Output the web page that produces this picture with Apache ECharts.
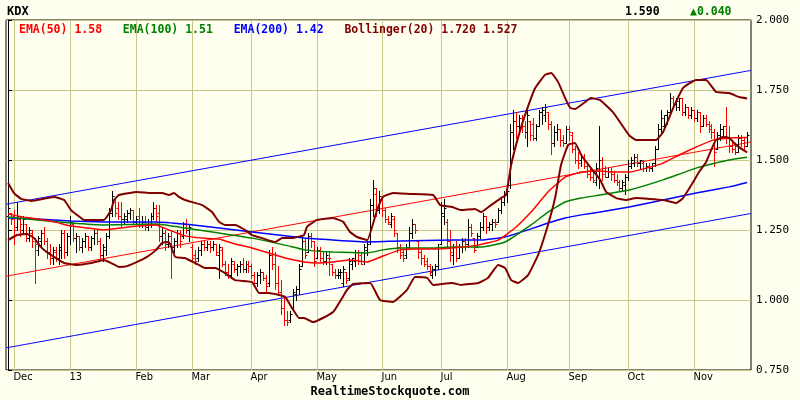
<!DOCTYPE html>
<html><head><meta charset="utf-8">
<script src="https://cdn.jsdelivr.net/npm/echarts@6/dist/echarts.min.js"></script>
<style>html,body{margin:0;padding:0;background:#fffff0}#c{width:800px;height:400px}</style>
</head><body><div id="c"></div>
<script>
const symbol = 'KDX';
const footerText = 'RealtimeStockquote.com';
// first trading day of each month (bar index) and its label
const monthIdx = [2, 21, 43, 62, 82, 104, 126, 146, 168, 189, 209, 231];
const monthLabels = ['Dec', '13', 'Feb', 'Mar', 'Apr', 'May', 'Jun', 'Jul', 'Aug', 'Sep', 'Oct', 'Nov'];
const yMin = 0.75, yMax = 2.0, yStep = 0.25;

const opens = [
1.30,1.31,1.30,1.26,1.29,1.25,1.27,1.22,1.24,1.22,
1.18,1.21,1.24,1.21,1.17,1.15,1.17,1.15,1.18,1.24,
1.17,1.23,1.27,1.22,1.23,1.19,1.21,1.23,1.19,1.22,
1.24,1.21,1.16,1.18,1.23,1.31,1.35,1.33,1.30,1.29,
1.29,1.31,1.32,1.28,1.30,1.27,1.28,1.26,1.27,1.30,
1.33,1.31,1.23,1.24,1.20,1.23,1.19,1.21,1.24,1.23,
1.27,1.25,1.19,1.16,1.15,1.18,1.20,1.19,1.20,1.19,
1.20,1.16,1.18,1.13,1.10,1.09,1.13,1.11,1.12,1.13,
1.11,1.13,1.12,1.09,1.06,1.09,1.10,1.08,1.06,1.16,
1.13,1.06,1.03,0.97,0.93,0.93,0.97,1.02,1.04,1.12,
1.21,1.17,1.23,1.21,1.15,1.18,1.15,1.14,1.15,1.13,
1.10,1.09,1.09,1.06,1.10,1.08,1.13,1.14,1.17,1.16,
1.14,1.18,1.21,1.34,1.38,1.32,1.36,1.32,1.29,1.27,
1.29,1.24,1.19,1.17,1.16,1.19,1.24,1.27,1.21,1.17,
1.15,1.14,1.12,1.09,1.11,1.12,1.20,1.30,1.28,1.21,
1.16,1.19,1.15,1.19,1.21,1.20,1.26,1.22,1.19,1.23,
1.26,1.30,1.26,1.27,1.28,1.28,1.32,1.35,1.38,1.41,
1.60,1.64,1.62,1.65,1.62,1.60,1.64,1.63,1.58,1.62,
1.67,1.66,1.67,1.63,1.56,1.60,1.61,1.57,1.56,1.61,
1.59,1.54,1.50,1.50,1.51,1.48,1.45,1.44,1.42,1.46,
1.50,1.47,1.44,1.46,1.45,1.43,1.42,1.40,1.41,1.44,
1.48,1.49,1.51,1.49,1.49,1.47,1.48,1.47,1.49,1.54,
1.61,1.62,1.66,1.67,1.72,1.70,1.69,1.72,1.67,1.69,
1.66,1.68,1.65,1.67,1.62,1.65,1.63,1.62,1.60,1.54,
1.59,1.61,1.62,1.58,1.55,1.54,1.53,1.58,1.57,1.55];
const highs = [
1.34,1.31,1.32,1.35,1.30,1.30,1.27,1.26,1.25,1.22,
1.23,1.25,1.26,1.22,1.20,1.19,1.19,1.20,1.25,1.25,
1.24,1.30,1.28,1.24,1.23,1.22,1.24,1.23,1.23,1.25,
1.25,1.22,1.20,1.24,1.33,1.39,1.36,1.35,1.35,1.31,
1.32,1.33,1.32,1.30,1.33,1.30,1.30,1.29,1.31,1.35,
1.34,1.34,1.26,1.25,1.24,1.25,1.22,1.25,1.25,1.28,
1.29,1.27,1.20,1.18,1.19,1.21,1.21,1.21,1.21,1.21,
1.20,1.20,1.19,1.14,1.13,1.15,1.14,1.13,1.14,1.15,
1.14,1.14,1.13,1.10,1.10,1.11,1.10,1.09,1.18,1.19,
1.17,1.12,1.07,1.01,0.96,0.96,1.04,1.05,1.13,1.23,
1.22,1.24,1.24,1.21,1.19,1.19,1.17,1.17,1.17,1.13,
1.11,1.11,1.11,1.12,1.10,1.15,1.15,1.18,1.18,1.17,
1.20,1.21,1.36,1.43,1.40,1.39,1.37,1.33,1.30,1.31,
1.30,1.24,1.20,1.18,1.20,1.26,1.29,1.27,1.21,1.18,
1.16,1.15,1.13,1.12,1.13,1.20,1.35,1.36,1.29,1.25,
1.20,1.21,1.20,1.22,1.22,1.29,1.27,1.22,1.24,1.28,
1.31,1.30,1.28,1.29,1.29,1.33,1.36,1.39,1.40,1.63,
1.68,1.67,1.66,1.66,1.64,1.69,1.64,1.65,1.63,1.68,
1.69,1.70,1.67,1.64,1.62,1.63,1.61,1.59,1.62,1.62,
1.60,1.55,1.53,1.52,1.52,1.49,1.47,1.46,1.49,1.62,
1.51,1.48,1.47,1.47,1.46,1.45,1.43,1.43,1.45,1.50,
1.51,1.52,1.52,1.50,1.50,1.49,1.49,1.49,1.55,1.63,
1.68,1.66,1.68,1.74,1.73,1.72,1.72,1.72,1.70,1.69,
1.69,1.68,1.68,1.67,1.66,1.66,1.64,1.63,1.61,1.60,
1.63,1.62,1.69,1.62,1.57,1.56,1.59,1.59,1.58,1.60];
const lows = [
1.29,1.27,1.20,1.25,1.23,1.24,1.21,1.21,1.19,1.06,
1.16,1.19,1.20,1.15,1.13,1.13,1.14,1.13,1.15,1.15,
1.16,1.20,1.21,1.17,1.18,1.17,1.19,1.18,1.18,1.20,
1.20,1.15,1.14,1.16,1.22,1.30,1.30,1.29,1.26,1.27,
1.28,1.29,1.27,1.27,1.26,1.26,1.25,1.25,1.26,1.29,
1.28,1.21,1.20,1.18,1.19,1.08,1.17,1.19,1.19,1.22,
1.24,1.21,1.14,1.13,1.14,1.16,1.18,1.18,1.17,1.18,
1.16,1.08,1.12,1.09,1.08,1.08,1.10,1.09,1.10,1.10,
1.10,1.10,1.08,1.05,1.05,1.06,1.07,1.03,1.05,1.11,
1.04,1.02,0.95,0.91,0.91,0.92,0.97,1.00,1.02,1.12,
1.15,1.17,1.19,1.12,1.15,1.14,1.13,1.13,1.09,1.09,
1.08,1.08,1.08,1.05,1.06,1.07,1.11,1.12,1.13,1.13,
1.13,1.16,1.20,1.30,1.30,1.31,1.30,1.28,1.27,1.26,
1.23,1.17,1.15,1.14,1.15,1.19,1.22,1.24,1.15,1.13,
1.12,1.11,1.09,1.08,1.09,1.11,1.20,1.27,1.19,1.14,
1.13,1.14,1.15,1.17,1.18,1.19,1.23,1.17,1.19,1.22,
1.25,1.24,1.25,1.25,1.26,1.28,1.31,1.34,1.35,1.40,
1.54,1.58,1.60,1.60,1.58,1.55,1.57,1.57,1.57,1.62,
1.63,1.64,1.61,1.52,1.55,1.57,1.55,1.55,1.56,1.57,
1.53,1.49,1.47,1.48,1.47,1.44,1.43,1.42,1.41,1.40,
1.43,1.44,1.44,1.43,1.42,1.41,1.39,1.39,1.38,1.43,
1.47,1.48,1.48,1.47,1.46,1.46,1.46,1.46,1.48,1.54,
1.60,1.61,1.63,1.67,1.69,1.68,1.68,1.66,1.66,1.65,
1.65,1.64,1.64,1.60,1.62,1.62,1.60,1.58,1.48,1.54,
1.57,1.58,1.56,1.53,1.53,1.52,1.53,1.55,1.54,1.55];
const closes = [
1.33,1.29,1.25,1.30,1.27,1.29,1.22,1.25,1.21,1.20,
1.22,1.24,1.21,1.17,1.16,1.18,1.15,1.19,1.24,1.17,
1.23,1.28,1.22,1.23,1.19,1.21,1.23,1.19,1.22,1.24,
1.21,1.16,1.19,1.23,1.31,1.37,1.31,1.30,1.29,1.30,
1.31,1.32,1.28,1.29,1.27,1.28,1.26,1.27,1.30,1.33,
1.30,1.23,1.24,1.20,1.23,1.19,1.21,1.24,1.21,1.27,
1.25,1.26,1.15,1.14,1.18,1.20,1.19,1.20,1.19,1.20,
1.17,1.19,1.13,1.10,1.09,1.14,1.11,1.12,1.13,1.11,
1.13,1.12,1.09,1.06,1.09,1.10,1.08,1.05,1.16,1.13,
1.06,1.03,0.97,0.93,0.92,0.95,1.03,1.04,1.11,1.21,
1.16,1.23,1.21,1.14,1.18,1.15,1.14,1.16,1.15,1.10,
1.09,1.10,1.10,1.11,1.07,1.14,1.15,1.17,1.14,1.13,
1.19,1.20,1.34,1.40,1.32,1.37,1.32,1.29,1.28,1.30,
1.25,1.19,1.16,1.15,1.19,1.24,1.27,1.25,1.17,1.15,
1.13,1.12,1.10,1.11,1.12,1.19,1.31,1.33,1.21,1.17,
1.19,1.15,1.19,1.21,1.20,1.26,1.24,1.18,1.23,1.26,
1.30,1.26,1.27,1.28,1.27,1.32,1.35,1.38,1.39,1.60,
1.64,1.62,1.65,1.62,1.60,1.66,1.59,1.58,1.62,1.67,
1.68,1.69,1.63,1.56,1.60,1.61,1.57,1.56,1.61,1.60,
1.54,1.50,1.49,1.51,1.48,1.45,1.44,1.43,1.47,1.50,
1.45,1.44,1.46,1.45,1.43,1.42,1.40,1.42,1.44,1.48,
1.50,1.51,1.49,1.50,1.47,1.48,1.47,1.49,1.54,1.61,
1.65,1.66,1.67,1.72,1.70,1.71,1.72,1.67,1.69,1.66,
1.68,1.65,1.67,1.62,1.65,1.63,1.61,1.60,1.53,1.59,
1.61,1.62,1.58,1.55,1.54,1.53,1.58,1.57,1.55,1.59];

// indicator readings: [bar index, value]
const ema50 = [[0,1.307],[5.4,1.296],[9.8,1.289],[15.5,1.279],[21.2,1.264],[26.6,1.257],[32.3,1.25],[38.1,1.257],[43.5,1.264],[49.9,1.268],[54.2,1.25],[59.6,1.229],[65.4,1.221],[71.1,1.218],[76.5,1.2],[82.2,1.186],[87.9,1.168],[93.3,1.15],[99.9,1.136],[104.1,1.132],[109.5,1.136],[115.2,1.143],[121,1.136],[126.3,1.157],[132.1,1.179],[137.8,1.182],[143.2,1.182],[149.6,1.186],[158.4,1.196],[165.1,1.214],[170.8,1.257],[176.2,1.314],[181.9,1.386],[187.7,1.439],[193.1,1.457],[199.5,1.461],[203.9,1.457],[209.3,1.457],[215,1.471],[220.7,1.489],[226.1,1.518],[231.8,1.546],[237.5,1.571],[242.9,1.579],[249,1.58]];
const ema100 = [[0,1.296],[9.8,1.286],[21.2,1.275],[32.3,1.268],[49.9,1.271],[59.6,1.257],[71.1,1.239],[82.2,1.221],[93.3,1.196],[99.9,1.179],[109.5,1.171],[121,1.168],[126.3,1.179],[132.1,1.186],[143.2,1.186],[149.6,1.189],[159.4,1.189],[167.5,1.207],[176.2,1.268],[181.9,1.314],[187.7,1.35],[193.1,1.364],[199.5,1.375],[209.3,1.393],[220.7,1.429],[231.8,1.471],[242.9,1.5],[249,1.51]];
const ema200 = [[0,1.293],[9.8,1.289],[21.2,1.282],[32.3,1.279],[49.9,1.279],[59.6,1.271],[71.1,1.257],[82.2,1.243],[99.9,1.221],[109.5,1.214],[121,1.207],[132.1,1.211],[149.6,1.214],[159.4,1.214],[167.5,1.225],[176.2,1.254],[181.9,1.275],[187.7,1.293],[193.1,1.304],[199.5,1.314],[209.3,1.332],[220.7,1.357],[231.8,1.382],[242.9,1.404],[249,1.42]];
const bollUpper = [[0,1.418],[2,1.382],[4.4,1.361],[7.7,1.354],[13.1,1.364],[15.5,1.368],[18.9,1.357],[21.2,1.321],[23.2,1.304],[25.6,1.286],[32.3,1.286],[34.7,1.321],[35.7,1.357],[37.4,1.375],[43.5,1.386],[48.2,1.382],[51.9,1.382],[54.2,1.375],[55.9,1.382],[57.6,1.368],[59.6,1.357],[65.4,1.339],[68.7,1.314],[71.1,1.279],[73.1,1.268],[76.5,1.268],[79.9,1.25],[82.2,1.232],[85.6,1.221],[90,1.207],[92.3,1.221],[95.7,1.221],[99.7,1.232],[100.7,1.261],[104.1,1.286],[109.5,1.293],[112.9,1.279],[115.2,1.243],[117.6,1.225],[121,1.214],[124.3,1.321],[126.3,1.368],[129.7,1.382],[135.4,1.379],[143.2,1.375],[145.6,1.339],[149.6,1.332],[152.6,1.321],[157.3,1.325],[159.4,1.314],[162.7,1.339],[166.1,1.364],[167.8,1.375],[169.5,1.482],[171.8,1.579],[174.2,1.661],[177.6,1.757],[180.9,1.804],[183,1.811],[185.3,1.779],[187.7,1.721],[189.4,1.686],[191,1.682],[194.4,1.707],[196.4,1.721],[199.5,1.714],[203.8,1.671],[209.2,1.589],[211.6,1.571],[218.3,1.571],[220.7,1.6],[224.1,1.686],[227.4,1.757],[231.8,1.786],[235.2,1.786],[238.5,1.743],[242.9,1.739],[246.3,1.725],[249,1.72]];
const bollLower = [[0,1.214],[3,1.232],[6.4,1.236],[8.8,1.221],[11.1,1.189],[13.1,1.171],[15.5,1.154],[18.9,1.132],[23.2,1.125],[28,1.132],[32.3,1.143],[34.7,1.132],[37.4,1.118],[40.1,1.121],[43.5,1.136],[46.8,1.154],[49.9,1.179],[51.9,1.204],[54.2,1.207],[56.3,1.154],[59.6,1.15],[63,1.132],[66.4,1.114],[69.7,1.114],[73.1,1.096],[76.5,1.071],[82.2,1.064],[84.6,1.025],[87.9,1.025],[93.3,1.011],[95.7,0.971],[98,0.936],[99.7,0.936],[102.8,0.921],[109.5,0.957],[114.2,1.036],[116.2,1.057],[122,1.061],[125.3,1.0],[129.7,0.993],[134.4,1.036],[137.1,1.082],[141.2,1.079],[143.2,1.054],[149.6,1.061],[152.6,1.054],[158.4,1.061],[161.7,1.079],[165.1,1.125],[167.5,1.114],[169.5,1.071],[171.8,1.061],[175.2,1.089],[178.6,1.161],[181.9,1.268],[184.3,1.364],[186.3,1.482],[188.7,1.554],[191,1.561],[193.1,1.518],[196.4,1.471],[199.5,1.429],[201.5,1.386],[204.9,1.364],[208.2,1.357],[211.6,1.364],[220.7,1.357],[225.1,1.346],[227.4,1.364],[230.8,1.421],[232.8,1.457],[235.2,1.493],[236.9,1.536],[238.5,1.571],[240.9,1.582],[242.9,1.579],[245.3,1.554],[247.6,1.536],[249,1.527]];
const trendUpper = [[-0.7,1.342],[250.3,1.820]];
const trendMid = [[-0.7,1.085],[250.3,1.564]];
const trendLower = [[-0.7,0.829],[250.3,1.309]];

const gridColor = '#c8c88c';
const bg = '#fffff0';
const mono = '"DejaVu Sans Mono", monospace';

const barData = closes.map((c, i) => [i, opens[i], highs[i], lows[i], c, (i > 0 && c < closes[i - 1]) ? 1 : 0]);
const monthData = monthIdx.map((m, k) => [m, k]);

function renderBar(params, api) {
  const i = api.value(0);
  const o = api.coord([i, api.value(1)]);
  const h = api.coord([i, api.value(2)]);
  const l = api.coord([i, api.value(3)]);
  const c = api.coord([i, api.value(4)]);
  const x = Math.round(h[0]) + 0.5;
  const col = api.value(5) ? '#ff0000' : '#000000';
  const st = { stroke: col, lineWidth: 1 };
  const oy = Math.round(o[1]) + 0.5, cy = Math.round(c[1]) + 0.5;
  return { type: 'group', children: [
    { type: 'line', shape: { x1: x, y1: Math.round(h[1]), x2: x, y2: Math.round(l[1]) + 1 }, style: st },
    { type: 'line', shape: { x1: x - 2, y1: oy, x2: x, y2: oy }, style: st },
    { type: 'line', shape: { x1: x, y1: cy, x2: x + 2, y2: cy }, style: st }
  ]};
}
function renderMonth(params, api) {
  const i = api.value(0);
  const top = api.coord([i, yMax]);
  const bot = api.coord([i, yMin]);
  const x = Math.round(top[0]) + 0.5;
  return { type: 'group', children: [
    { type: 'line', shape: { x1: x, y1: top[1], x2: x, y2: bot[1] }, style: { stroke: gridColor, lineWidth: 1 } },
    { type: 'text', x: x - 1, y: bot[1] + 7, style: { text: monthLabels[api.value(1)], fill: '#000',
      font: '11px "DejaVu Sans Condensed", "Liberation Sans Narrow", sans-serif', align: 'left', verticalAlign: 'middle' } }
  ]};
}
function lineSeries(data, color, width, z) {
  return { type: 'line', data: data, symbol: 'none', smooth: 0.12, z: z, silent: true,
    lineStyle: { color: color, width: width } };
}

const last = closes.length - 1;
const change = closes[last] - closes[last - 1];
const legendRich = '{a|EMA(50) ' + ema50[ema50.length - 1][1].toFixed(2) + '}   ' +
  '{b|EMA(100) ' + ema100[ema100.length - 1][1].toFixed(2) + '}   ' +
  '{c|EMA(200) ' + ema200[ema200.length - 1][1].toFixed(2) + '}   ' +
  '{d|Bollinger(20) ' + bollUpper[bollUpper.length - 1][1].toFixed(3) + ' ' + bollLower[bollLower.length - 1][1].toFixed(3) + '}';
const legFont = 'bold 11.5px ' + mono;

const chart = echarts.init(document.getElementById('c'));
chart.setOption({
  animation: false,
  backgroundColor: bg,
  grid: { left: 6, right: 49, top: 20, bottom: 30, show: true, borderColor: '#000', borderWidth: 1, backgroundColor: bg },
  xAxis: { type: 'value', min: -0.694, max: 250.31, axisLine: { show: false }, axisTick: { show: false },
    axisLabel: { show: false }, splitLine: { show: false } },
  yAxis: { type: 'value', position: 'right', min: yMin, max: yMax, interval: yStep,
    axisLine: { show: true, lineStyle: { color: '#000' } },
    axisTick: { show: true, inside: false, length: 4, lineStyle: { color: '#000' } },
    axisLabel: { formatter: v => v.toFixed(3), color: '#000', fontFamily: mono, fontSize: 11, margin: 5 },
    splitLine: { show: true, lineStyle: { color: gridColor, width: 1 } } },
  graphic: [
    { type: 'text', x: 7, y: 12, style: { text: symbol, font: 'bold 12px ' + mono, fill: '#000', verticalAlign: 'middle' } },
    { type: 'text', x: 625, y: 12, style: { text: closes[last].toFixed(3), font: 'bold 11.5px ' + mono, fill: '#000', verticalAlign: 'middle' } },
    { type: 'text', x: 690, y: 12, style: { text: (change >= 0 ? '\u25B2' : '\u25BC') + Math.abs(change).toFixed(3), font: 'bold 11.5px ' + mono, fill: change >= 0 ? '#008000' : '#ff0000', verticalAlign: 'middle' } },
    { type: 'text', x: 19, y: 30, z: 100, style: { text: legendRich, font: legFont, verticalAlign: 'middle',
      rich: { a: { fill: '#ff0000', font: legFont }, b: { fill: '#008000', font: legFont }, c: { fill: '#0000ff', font: legFont }, d: { fill: '#800000', font: legFont } } } },
    { type: 'text', x: 390, y: 392, style: { text: footerText, font: 'bold 12px ' + mono, fill: '#000', align: 'center', verticalAlign: 'middle' } }
  ],
  series: [
    { type: 'custom', renderItem: renderMonth, data: monthData, clip: false, z: 1, silent: true, encode: { x: 0 } },
    lineSeries(trendUpper, '#0000ff', 1, 3),
    lineSeries(trendMid, '#ff0000', 1, 3),
    lineSeries(trendLower, '#0000ff', 1, 3),
    { type: 'custom', renderItem: renderBar, data: barData, clip: true, z: 4, silent: true, encode: { x: 0, y: [1, 2, 3, 4] } },
    lineSeries(ema200, '#0000ff', 1.5, 5),
    lineSeries(ema100, '#008000', 1.5, 5),
    lineSeries(ema50, '#ff0000', 1.5, 5),
    lineSeries(bollUpper, '#800000', 2, 6),
    lineSeries(bollLower, '#800000', 2, 6)
  ]
});
</script></body></html>
